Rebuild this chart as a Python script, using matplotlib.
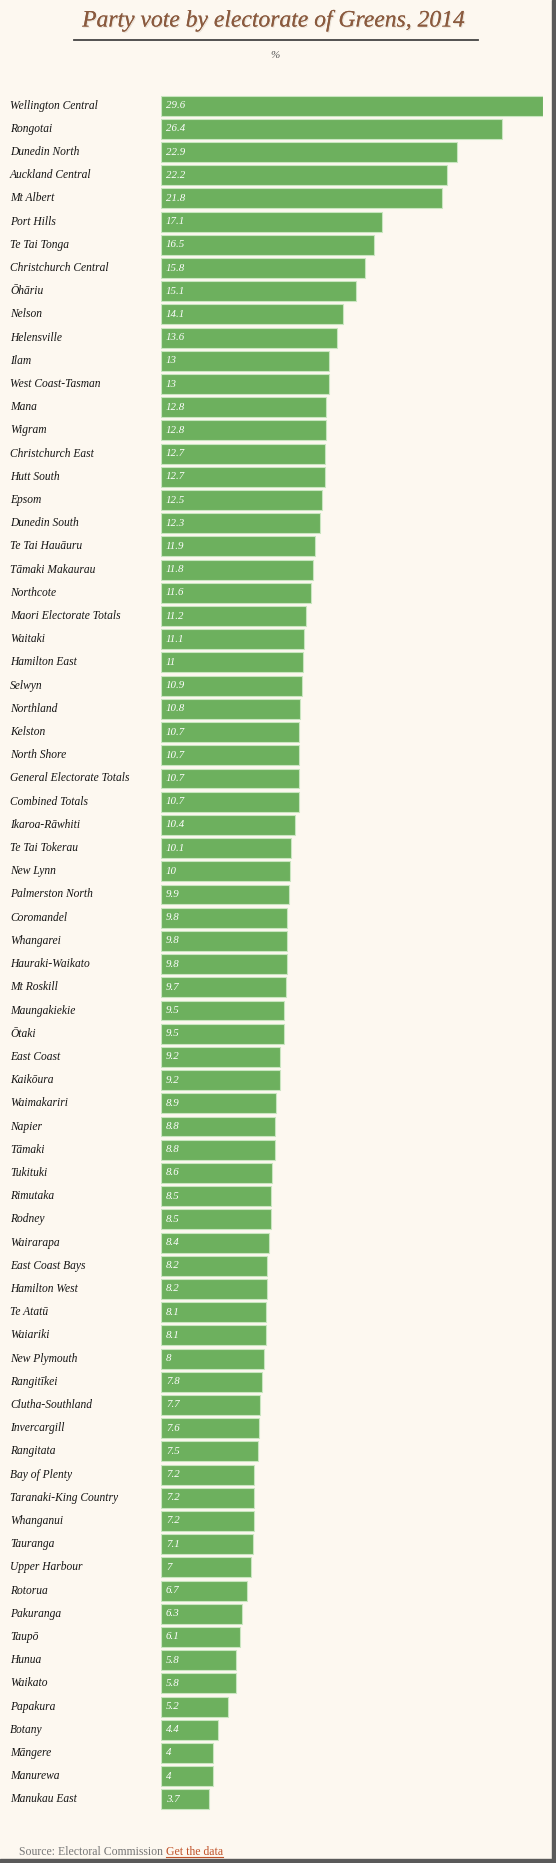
import matplotlib.pyplot as plt
import matplotlib.patheffects as pe
from matplotlib.patches import Rectangle
from matplotlib.transforms import blended_transform_factory

# Data
electorates = [
    "Wellington Central", "Rongotai", "Dunedin North", "Auckland Central", "Mt Albert",
    "Port Hills", "Te Tai Tonga", "Christchurch Central", "Ōhāriu", "Nelson",
    "Helensville", "Ilam", "West Coast-Tasman", "Mana", "Wigram",
    "Christchurch East", "Hutt South", "Epsom", "Dunedin South", "Te Tai Hauāuru",
    "Tāmaki Makaurau", "Northcote", "Maori Electorate Totals", "Waitaki", "Hamilton East",
    "Selwyn", "Northland", "Kelston", "North Shore", "General Electorate Totals",
    "Combined Totals", "Ikaroa-Rāwhiti", "Te Tai Tokerau", "New Lynn", "Palmerston North",
    "Coromandel", "Whangarei", "Hauraki-Waikato", "Mt Roskill", "Maungakiekie",
    "Ōtaki", "East Coast", "Kaikōura", "Waimakariri", "Napier",
    "Tāmaki", "Tukituki", "Rimutaka", "Rodney", "Wairarapa",
    "East Coast Bays", "Hamilton West", "Te Atatū", "Waiariki", "New Plymouth",
    "Rangitīkei", "Clutha-Southland", "Invercargill", "Rangitata", "Bay of Plenty",
    "Taranaki-King Country", "Whanganui", "Tauranga", "Upper Harbour", "Rotorua",
    "Pakuranga", "Taupō", "Hunua", "Waikato", "Papakura",
    "Botany", "Māngere", "Manurewa", "Manukau East",
]
green_vote = [
    29.6, 26.4, 22.9, 22.2, 21.8,
    17.1, 16.5, 15.8, 15.1, 14.1,
    13.6, 13, 13, 12.8, 12.8,
    12.7, 12.7, 12.5, 12.3, 11.9,
    11.8, 11.6, 11.2, 11.1, 11,
    10.9, 10.8, 10.7, 10.7, 10.7,
    10.7, 10.4, 10.1, 10, 9.9,
    9.8, 9.8, 9.8, 9.7, 9.5,
    9.5, 9.2, 9.2, 8.9, 8.8,
    8.8, 8.6, 8.5, 8.5, 8.4,
    8.2, 8.2, 8.1, 8.1, 8,
    7.8, 7.7, 7.6, 7.5, 7.2,
    7.2, 7.2, 7.1, 7, 6.7,
    6.3, 6.1, 5.8, 5.8, 5.2,
    4.4, 4, 4, 3.7,
]

W, H = 556, 1863
bg = "#fdf8f0"
fig = plt.figure(figsize=(W / 100, H / 100), dpi=100, facecolor=bg)

# frame shadow on the right and bottom
fig.patches.append(Rectangle((552 / W, 0), 4 / W, 1, transform=fig.transFigure,
                             color="#5a5a5a", zorder=0))
fig.patches.append(Rectangle((0, 0), 1, 4 / H, transform=fig.transFigure,
                             color="#5a5a5a", zorder=0))

ax = fig.add_axes([161 / W, 1 - 1811 / H, 382 / W, (1811 - 94) / H])
ax.set_facecolor("none")
y = list(range(len(electorates)))
ax.barh(y, green_vote, height=0.86, color="#6db05e", edgecolor="#c9e6c0", linewidth=0.8)
ax.set_xlim(0, max(green_vote))
ax.set_ylim(len(electorates) - 0.5, -0.5)
ax.axis("off")

label_tr = blended_transform_factory(fig.transFigure, ax.transData)
for i, (name, v) in enumerate(zip(electorates, green_vote)):
    ax.text(10 / W, i, name, transform=label_tr, ha="left", va="center",
            fontsize=8.3, family="Liberation Serif", style="italic", color="#141414")
    ax.annotate(f"{v:g}", (0, i), textcoords="offset points", xytext=(3.5, 0),
                ha="left", va="center", fontsize=7.8, family="Liberation Serif",
                style="italic", color="white")

# title with underline and soft shadow
fig.text(0.493, 1 - 21 / H, "Party vote by electorate of Greens, 2014", ha="center", va="center",
         fontsize=17, family="Liberation Serif", style="italic", color="#8a5a3e",
         path_effects=[pe.withSimplePatchShadow(offset=(0.8, -0.8), shadow_rgbFace="#c8bcae", alpha=0.4),
                       pe.Normal()])
fig.add_artist(plt.Line2D([74 / W, 478 / W], [1 - 40 / H, 1 - 40 / H],
                          transform=fig.transFigure, color="#444444", linewidth=1.3))
fig.text(275 / W, 1 - 56 / H, "%", ha="center", va="center", fontsize=8,
         family="Liberation Serif", style="italic", color="#555555")

# source line
src = fig.text(19 / W, 1 - 1852 / H, "Source: Electoral Commission ", ha="left", va="center",
               fontsize=8.5, family="Liberation Serif", color="#777777")
fig.canvas.draw()
bb = src.get_window_extent()
link = fig.text(bb.x1 / W, 1 - 1852 / H, "Get the data", ha="left", va="center", fontsize=8.5,
                family="Liberation Serif", color="#c0532a")
fig.canvas.draw()
lb = link.get_window_extent()
fig.add_artist(plt.Line2D([lb.x0 / W, lb.x1 / W], [(lb.y0 + 1.5) / H, (lb.y0 + 1.5) / H],
                          transform=fig.transFigure, color="#c0532a", linewidth=0.8))

fig.savefig("out.png", dpi=100, facecolor=bg)
